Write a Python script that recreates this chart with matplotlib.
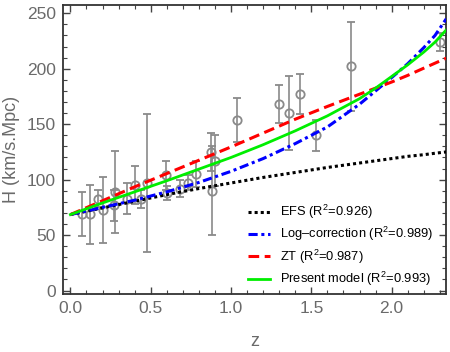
import matplotlib
matplotlib.use('Agg')
import matplotlib.pyplot as plt
from matplotlib.ticker import MultipleLocator

plt.rcParams['font.family'] = ['Liberation Sans', 'DejaVu Sans']
plt.rcParams['mathtext.fontset'] = 'custom'
plt.rcParams['mathtext.rm'] = 'Liberation Sans'
plt.rcParams['mathtext.default'] = 'regular'

# observational H(z) points
z_obs = [0.07, 0.12, 0.17, 0.2, 0.27, 0.28, 0.352, 0.4, 0.44, 0.48, 0.593, 0.6,
         0.68, 0.73, 0.781, 0.875, 0.88, 0.9, 1.037, 1.3, 1.363, 1.43, 1.53,
         1.75, 2.3]
H_obs = [69, 68.6, 83, 72.9, 77, 88.8, 83, 95, 82.6, 97, 104, 87.9,
         92, 97.3, 105, 125, 90, 117, 154, 168, 160, 177, 140,
         202, 224]
H_err = [19.6, 26.2, 8, 29.6, 14, 36.6, 14, 17, 7.8, 62, 13, 6.1,
         8, 7.0, 12, 17, 40, 23, 20, 17, 33.6, 18, 14,
         40, 8]

# model curves
z_mod = [0, 0.2, 0.4, 0.6, 0.8, 1.0, 1.2, 1.4, 1.6, 1.8, 1.9, 2.0, 2.1, 2.2, 2.27, 2.34]
H_efs = [68.5, 74.5, 80.5, 86.5, 92, 97, 102, 106.5, 111, 115, 117, 119, 121, 122.5, 123.8, 125]
H_log = [68.5, 75, 81.5, 89, 97.5, 107.5, 119, 132.5, 147.5, 168, 180, 192, 204.5, 219, 230, 245]
H_zt = [68.5, 81, 93.5, 105.5, 117.5, 129.5, 142, 154.5, 166, 177, 182.5, 188, 194, 200.5, 205, 209.5]
H_present = [68.5, 79, 89, 99, 109.5, 120, 131.5, 144, 157.5, 173, 182.5, 193, 203.5, 215, 224, 235]

fig = plt.figure(figsize=(4.5, 3.52), dpi=100)
ax = fig.add_axes([0.14, 0.165, 0.851, 0.821])

ax.errorbar(z_obs, H_obs, yerr=H_err, fmt='o', color='#8a8a8a', mfc='none',
            mec='#8a8a8a', ms=6, mew=1.3, elinewidth=1.2, capsize=3,
            capthick=1.2, zorder=2)

ax.plot(z_mod, H_efs, color='black', ls=(0, (1, 1)), lw=2.2,
        label='EFS (R$^2$=0.926)', zorder=3)
ax.plot(z_mod, H_log, color='#0000ff', ls=(0, (3, 1.2, 1, 1.2)), lw=2.2,
        label='Log\u2013correction (R$^2$=0.989)', zorder=3)
ax.plot(z_mod, H_zt, color='#ff0000', ls=(0, (3.5, 1.8)), lw=2.2,
        label='ZT (R$^2$=0.987)', zorder=3)
ax.plot(z_mod, H_present, color='#00ee00', ls='-', lw=2.0,
        label='Present model (R$^2$=0.993)', zorder=3)

ax.set_xlim(-0.046, 2.338)
ax.set_ylim(-3, 257.5)
ax.xaxis.set_major_locator(MultipleLocator(0.5))
ax.xaxis.set_minor_locator(MultipleLocator(0.1))
ax.yaxis.set_major_locator(MultipleLocator(50))
ax.yaxis.set_minor_locator(MultipleLocator(10))
ax.tick_params(which='both', direction='in', top=True, right=True,
               colors='#444444', labelcolor='#6a6a6a', labelsize=12.5)
ax.tick_params(which='major', length=5, width=1, pad=5)
ax.tick_params(which='minor', length=3, width=0.8)
for s in ax.spines.values():
    s.set_color('#333333')
    s.set_linewidth(1.3)

ax.set_xlabel('z', color='#6a6a6a', fontsize=13, labelpad=12)
ax.set_ylabel('H (km/s.Mpc)', color='#6a6a6a', fontsize=13, labelpad=5)

leg = ax.legend(loc='lower right', bbox_to_anchor=(0.997, -0.02), frameon=False,
                fontsize=9.3, handlelength=1.7, handletextpad=0.8,
                labelspacing=0.32)

fig.savefig('out.png', dpi=100)
